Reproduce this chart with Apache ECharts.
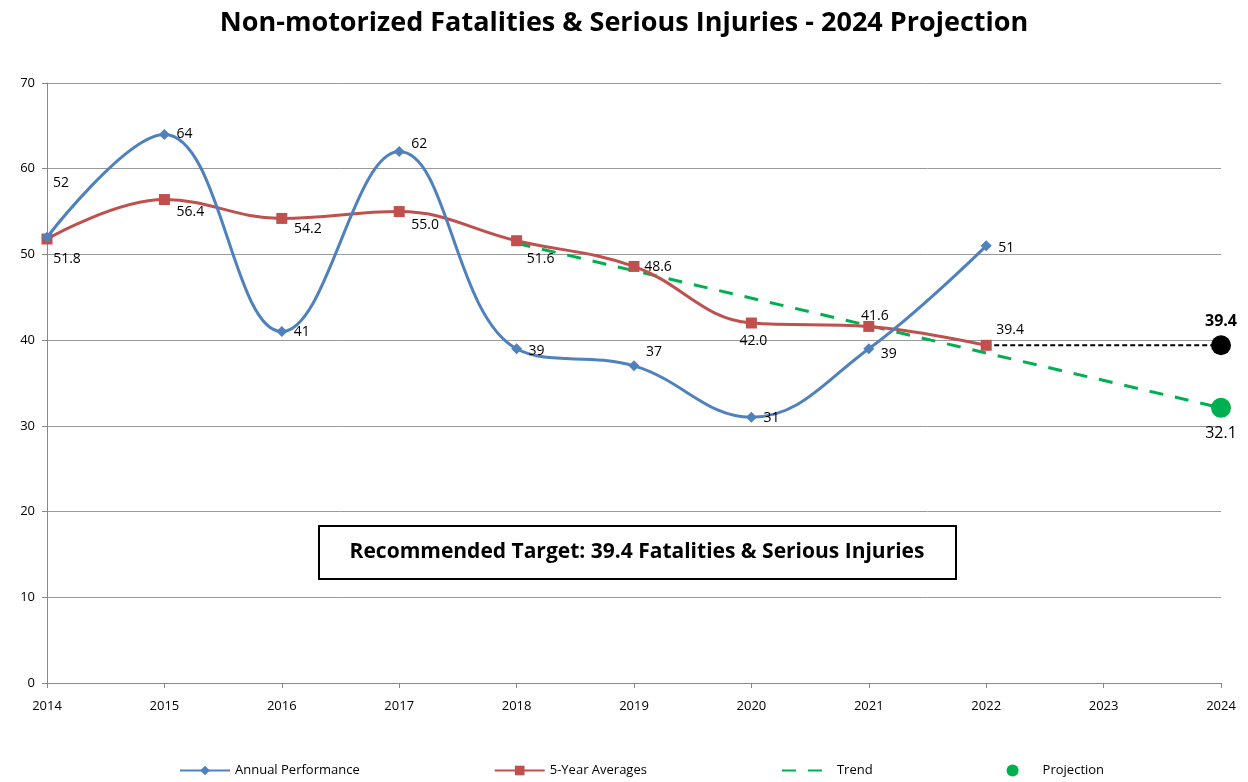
<!DOCTYPE html>
<html>
<head>
<meta charset="utf-8">
<script src="https://cdn.jsdelivr.net/npm/echarts@6/dist/echarts.min.js"></script>
<style>
  html, body { margin: 0; padding: 0; background: #fff; }
  #chart { width: 1248px; height: 782px; }
</style>
</head>
<body>
<div id="chart"></div>
<script>
const years = ['2014', '2015', '2016', '2017', '2018', '2019', '2020', '2021', '2022', '2023', '2024']
const annual = [52, 64, 41, 62, 39, 37, 31, 39, 51, null, null]
const avg5 = [51.8, 56.4, 54.2, 55.0, 51.6, 48.6, 42.0, 41.6, 39.4, null, null]
const trend = [null, null, null, null, 51.3, null, null, null, null, null, 32.1]
const projection = [null, null, null, null, null, null, null, null, null, null, 32.1]
const target = [null, null, null, null, null, null, null, null, 39.4, null, 39.4]
const targetDot = [null, null, null, null, null, null, null, null, null, null, 39.4]

// label offsets for each point (px)
const annualOffsets = [[14, -54], [20, 0], [20, 0], [20, -8], [20, 2], [20, -14], [20, 1], [20, 5], [20, 2]]
const avgOffsets = [[20, 20], [26, 12], [26, 11], [26, 13], [24, 18], [24, 1], [2, 18], [6, -10], [24, -15]]

const font = 'Open Sans, sans-serif'

const chartDom = document.getElementById('chart')
const myChart = echarts.init(chartDom)

const withLabels = (vals, offsets, digits) => vals.map((v, i) => {
  if (v == null) return null
  return {
    value: v,
    label: {
      show: true,
      position: 'inside',
      offset: offsets[i],
      formatter: () => v.toFixed(digits)
    }
  }
})

const option = {
  animation: false,
  textStyle: { fontFamily: font },
  title: {
    text: 'Non-motorized Fatalities & Serious Injuries - 2024 Projection',
    left: 'center',
    top: 5,
    textStyle: { fontSize: 27, fontWeight: 'bold', color: '#000', fontFamily: font }
  },
  grid: { left: 47, right: 27, top: 83, bottom: 99 },
  legend: {
    bottom: 0,
    left: 174,
    itemGap: 134,
    itemWidth: 50,
    itemHeight: 12,
    textStyle: { fontSize: 13, color: '#000' },
    data: [
      'Annual Performance',
      '5-Year Averages',
      { name: 'Trend', itemStyle: { opacity: 0 } },
      'Projection'
    ]
  },
  xAxis: {
    type: 'category',
    data: years,
    boundaryGap: false,
    axisLine: { lineStyle: { color: '#888' } },
    axisTick: { show: true, alignWithLabel: true, lineStyle: { color: '#888' } },
    axisLabel: { color: '#000', fontSize: 13, margin: 17 },
    splitLine: { show: false }
  },
  yAxis: {
    type: 'value',
    min: 0,
    max: 70,
    interval: 10,
    axisLine: { show: true, lineStyle: { color: '#888' } },
    axisTick: { show: true, lineStyle: { color: '#888' } },
    axisLabel: { color: '#000', fontSize: 13, margin: 12 },
    splitLine: { lineStyle: { color: '#999' } }
  },
  series: [
    {
      name: 'Trend',
      type: 'line',
      data: trend,
      connectNulls: true,
      symbol: 'none',
      lineStyle: { color: '#00B050', width: 3, type: [14, 12] },
      itemStyle: { color: '#00B050' },
      z: 3
    },
    {
      name: 'Target',
      type: 'line',
      data: target,
      connectNulls: true,
      symbol: 'none',
      lineStyle: { color: '#000', width: 2, type: [5, 3] },
      z: 3
    },
    {
      name: '5-Year Averages',
      type: 'line',
      data: withLabels(avg5, avgOffsets, 1),
      smooth: 0.4,
      symbol: 'rect',
      symbolSize: 11,
      color: '#C0504D',
      lineStyle: { color: '#C0504D', width: 3 },
      itemStyle: { color: '#C0504D' },
      label: { color: '#000', fontSize: 14 },
      z: 4
    },
    {
      name: 'Annual Performance',
      type: 'line',
      data: withLabels(annual, annualOffsets, 0),
      smooth: 0.4,
      symbol: 'diamond',
      symbolSize: 11,
      color: '#4F81BD',
      lineStyle: { color: '#4F81BD', width: 3 },
      itemStyle: { color: '#4F81BD' },
      label: { color: '#000', fontSize: 14 },
      z: 5
    },
    {
      name: 'Projection',
      type: 'scatter',
      data: projection,
      symbolSize: 20,
      itemStyle: { color: '#00B050', opacity: 1 },
      label: { show: true, position: 'bottom', distance: 8, color: '#000', fontSize: 16 },
      z: 6
    },
    {
      name: 'Target Projection',
      type: 'scatter',
      data: targetDot,
      symbolSize: 20,
      itemStyle: { color: '#000', opacity: 1 },
      label: { show: true, position: 'top', distance: 6, color: '#000', fontSize: 16, fontWeight: 'bold' },
      z: 6
    }
  ],
  graphic: [
    {
      type: 'group',
      left: 318,
      top: 525,
      children: [
        {
          type: 'rect',
          shape: { x: 0, y: 0, width: 637, height: 53 },
          style: { fill: '#fff', stroke: '#000', lineWidth: 2 }
        },
        {
          type: 'text',
          x: 318,
          y: 26,
          style: {
            text: 'Recommended Target: 39.4 Fatalities & Serious Injuries',
            fontSize: 21,
            fontWeight: 'bold',
            fontFamily: font,
            fill: '#000',
            align: 'center',
            verticalAlign: 'middle'
          }
        }
      ]
    }
  ]
}
myChart.setOption(option)
</script>
</body>
</html>
